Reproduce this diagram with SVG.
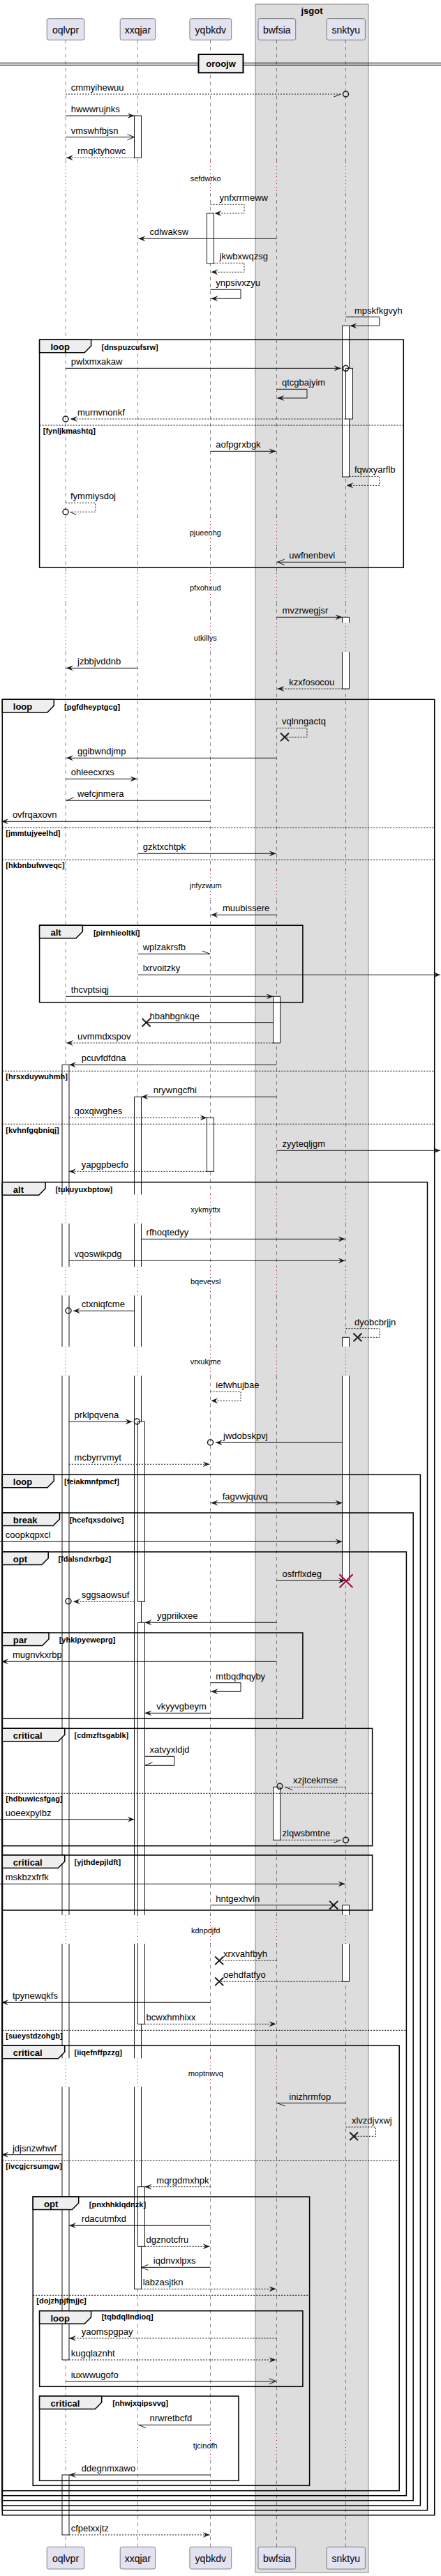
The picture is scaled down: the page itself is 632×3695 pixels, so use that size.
<svg xmlns="http://www.w3.org/2000/svg" width="632" height="3695" viewBox="0 0 632 3695">
<style>
.bg{fill:#fff}
.box{fill:#DDDDDD;stroke:#888888;stroke-width:1}
.ph{fill:#E2E2F0;stroke:#181818;stroke-width:0.5}
.pt{font:14px "Liberation Sans",Arial,sans-serif;fill:#000;text-anchor:middle}
.ll{fill:none;stroke:#181818;stroke-width:0.5;stroke-dasharray:5,5}
.dl{fill:none;stroke:#A80036;stroke-width:1;stroke-dasharray:1,4}
.actf{fill:#fff;stroke:none}
.act{fill:#fff;stroke:#181818;stroke-width:1}
.acto{fill:none;stroke:#181818;stroke-width:1}
.fr{fill:none;stroke:#000;stroke-width:1.5}
.tab{fill:#EEEEEE;stroke:#000;stroke-width:1.5}
.els{stroke:#000;stroke-width:1;stroke-dasharray:2,2}
.gt{font:bold 13px "Liberation Sans",Arial,sans-serif;fill:#000}
.gc{font:bold 11px "Liberation Sans",Arial,sans-serif;fill:#000}
.m{font:13px "Liberation Sans",Arial,sans-serif;fill:#000}
.d{font:11px "Liberation Sans",Arial,sans-serif;fill:#000;text-anchor:middle}
.s{fill:none;stroke:#181818;stroke-width:1}
.k{fill:none;stroke:#181818;stroke-width:1;stroke-dasharray:2,2}
.f{marker-end:url(#af)}
.o{marker-end:url(#ao)}
.c{fill:none;stroke:#181818;stroke-width:1.5}
.x{stroke:#181818;stroke-width:2}
.xr{stroke:#A80036;stroke-width:2}
</style>
<defs>
<marker id="af" viewBox="0 0 10 8" refX="10" refY="4" markerWidth="10" markerHeight="8" markerUnits="userSpaceOnUse" orient="auto-start-reverse"><path d="M0,0L10,4L0,8L4,4Z" fill="#181818"/></marker>
<marker id="ao" viewBox="-1 -1 12 10" refX="10" refY="4" markerWidth="12" markerHeight="10" markerUnits="userSpaceOnUse" orient="auto" overflow="visible"><path d="M0,0L10,4L0,8" fill="none" stroke="#181818" stroke-width="1"/></marker>
<path id="llp" d="M0,57.3V233M0,277V742M0,785V822M0,864V893.3M0,935V1248M0,1291V1713.5M0,1755V1817M0,1858.3V1931.7M0,1973.3V2747M0,2788.3V2952.3M0,2993.3V3485M0,3528.3V3653.3"/>
<path id="dlp" d="M0,233V277M0,742V785M0,822V864M0,893.3V935M0,1248V1291M0,1713.5V1755M0,1817V1858.3M0,1931.7V1973.3M0,2747V2788.3M0,2952.3V2993.3M0,3485V3528.3"/>
</defs>
<rect class="bg" x="0" y="0" width="632" height="3695"/>
<g id="box-jsgot">
<rect class="box" x="366" y="6" width="162" height="3684"/>
<text class="gt" x="447" y="19.5" text-anchor="middle">jsgot</text>
</g>
<g id="lifelines">
<use href="#llp" class="ll" x="94"/><use href="#llp" class="ll" x="197.5"/><use href="#llp" class="ll" x="301.5"/><use href="#llp" class="ll" x="396.5"/><use href="#llp" class="ll" x="495.5"/>
<use href="#dlp" class="dl" x="94"/><use href="#dlp" class="dl" x="197.5"/><use href="#dlp" class="dl" x="301.5"/><use href="#dlp" class="dl" x="396.5"/><use href="#dlp" class="dl" x="495.5"/>
</g>
<g id="oqlvpr"><rect class="ph" x="67.2" y="26.7" width="53.7" height="30.6" rx="2.5"/><text class="pt" x="94" y="47.5">oqlvpr</text><rect class="ph" x="67.2" y="3653.3" width="53.7" height="31.7" rx="2.5"/><text class="pt" x="94" y="3674.5">oqlvpr</text></g>
<g id="xxqjar"><rect class="ph" x="172.2" y="26.7" width="50.4" height="30.6" rx="2.5"/><text class="pt" x="197.4" y="47.5">xxqjar</text><rect class="ph" x="172.2" y="3653.3" width="50.4" height="31.7" rx="2.5"/><text class="pt" x="197.4" y="3674.5">xxqjar</text></g>
<g id="yqbkdv"><rect class="ph" x="271.9" y="26.7" width="59.8" height="30.6" rx="2.5"/><text class="pt" x="301.8" y="47.5">yqbkdv</text><rect class="ph" x="271.9" y="3653.3" width="59.8" height="31.7" rx="2.5"/><text class="pt" x="301.8" y="3674.5">yqbkdv</text></g>
<g id="bwfsia"><rect class="ph" x="370" y="26.7" width="53.7" height="30.6" rx="2.5"/><text class="pt" x="396.8" y="47.5">bwfsia</text><rect class="ph" x="370" y="3653.3" width="53.7" height="31.7" rx="2.5"/><text class="pt" x="396.8" y="3674.5">bwfsia</text></g>
<g id="snktyu"><rect class="ph" x="468" y="26.7" width="55.4" height="30.6" rx="2.5"/><text class="pt" x="495.7" y="47.5">snktyu</text><rect class="ph" x="468" y="3653.3" width="55.4" height="31.7" rx="2.5"/><text class="pt" x="495.7" y="3674.5">snktyu</text></g>
<g id="activations">
<rect class="act" x="192.5" y="166" width="10" height="60.3"/>
<rect class="act" x="296.5" y="306" width="10" height="72"/>
<rect class="act" x="490.5" y="467.3" width="10" height="216.7"/>
<rect class="act" x="495.5" y="528.3" width="10" height="72.7"/>
<rect class="actf" x="490.5" y="885.3" width="10" height="8"/><rect class="actf" x="490.5" y="935" width="10" height="53"/>
<path class="acto" d="M490.5,893.3V885.3H500.5V893.3M490.5,935V988H500.5V935"/>
<rect class="act" x="391.5" y="1429.3" width="10" height="66.7"/>
<rect class="actf" x="89" y="1527.3" width="10" height="186.2"/><rect class="actf" x="89" y="1755" width="10" height="62"/><rect class="actf" x="89" y="1858.3" width="10" height="73.4"/><rect class="actf" x="89" y="1973.3" width="10" height="773.7"/><rect class="actf" x="89" y="2788.3" width="10" height="164"/><rect class="actf" x="89" y="2993.3" width="10" height="391.7"/>
<path class="acto" d="M89,1713.5V1527.3H99V1713.5M89,1755V1817M99,1755V1817M89,1858.3V1931.7M99,1858.3V1931.7M89,1973.3V2747M99,1973.3V2747M89,2788.3V2952.3M99,2788.3V2952.3M89,2993.3V3385H99V2993.3"/>
<rect class="actf" x="192.5" y="1573.3" width="10" height="140.2"/><rect class="actf" x="192.5" y="1755" width="10" height="62"/><rect class="actf" x="192.5" y="1858.3" width="10" height="73.4"/><rect class="actf" x="192.5" y="1973.3" width="10" height="773.7"/><rect class="actf" x="192.5" y="2788.3" width="10" height="164"/><rect class="actf" x="192.5" y="2993.3" width="10" height="290"/>
<path class="acto" d="M192.5,1713.5V1573.3H202.5V1713.5M192.5,1755V1817M202.5,1755V1817M192.5,1858.3V1931.7M202.5,1858.3V1931.7M192.5,1973.3V2747M202.5,1973.3V2747M192.5,2788.3V2952.3M202.5,2788.3V2952.3M192.5,2993.3V3283.3H202.5V2993.3"/>
<rect class="act" x="296.5" y="1603.3" width="10" height="77"/>
<rect class="actf" x="490.5" y="1918.3" width="10" height="13.4"/><rect class="actf" x="490.5" y="1973.3" width="10" height="294"/>
<path class="acto" d="M490.5,1931.7V1918.3H500.5V1931.7M490.5,1973.3V2267.3H500.5V1973.3"/>
<rect class="act" x="197.5" y="2039.3" width="10" height="258"/>
<rect class="actf" x="197.5" y="2327.3" width="10" height="419.7"/><rect class="actf" x="197.5" y="2788.3" width="10" height="115"/>
<path class="acto" d="M197.5,2747V2327.3H207.5V2747M197.5,2788.3V2903.3H207.5V2788.3"/>
<rect class="act" x="391.5" y="2563.3" width="10" height="76"/>
<rect class="actf" x="490.5" y="2732.7" width="10" height="14.3"/><rect class="actf" x="490.5" y="2788.3" width="10" height="54"/>
<path class="acto" d="M490.5,2747V2732.7H500.5V2747M490.5,2788.3V2842.3H500.5V2788.3"/>
<rect class="act" x="197.5" y="3136.7" width="10" height="85.6"/>
<rect class="act" x="89" y="3550" width="10" height="86"/>
</g>
<g id="divider">
<line x1="0" y1="90.3" x2="632" y2="90.3" stroke="#000" stroke-width="1"/>
<line x1="0" y1="93.3" x2="632" y2="93.3" stroke="#000" stroke-width="1"/>
<rect x="284.5" y="78" width="64" height="26.3" fill="#EEEEEE" stroke="#000" stroke-width="2"/>
<text class="gt" x="316.5" y="96.3" text-anchor="middle">oroojw</text>
</g>
<g id="frames">
<g id="g1"><rect class="fr" x="56.6" y="487.3" width="521.7" height="326.7"/><path class="tab" d="M56.6,487.3H130.6V496.3L121.2,505.8H56.6Z"/><text class="gt" x="72.5" y="502.3">loop</text><text class="gc" x="145.5" y="501.8">[dnspuzcufsrw]</text>
<line class="els" x1="56.6" y1="610" x2="578.3" y2="610"/><text class="gc" x="61.8" y="622">[fynljkmashtq]</text></g>
<g id="g2"><rect class="fr" x="3.3" y="1003.3" width="619.4" height="2604.4"/><path class="tab" d="M3.3,1003.3H77.3V1012.3L67.9,1021.8H3.3Z"/><text class="gt" x="18.8" y="1018.3">loop</text><text class="gc" x="92" y="1017.8">[pgfdheyptgcg]</text>
<line class="els" x1="3.3" y1="1187.3" x2="622.7" y2="1187.3"/><text class="gc" x="8.3" y="1199.3">[jmmtujyeelhd]</text>
<line class="els" x1="3.3" y1="1233.3" x2="622.7" y2="1233.3"/><text class="gc" x="8.3" y="1245.3">[hkbnbufwveqc]</text>
<line class="els" x1="3.3" y1="1536.3" x2="622.7" y2="1536.3"/><text class="gc" x="8.3" y="1548.3">[hrsxduywuhmh]</text>
<line class="els" x1="3.3" y1="1612.3" x2="622.7" y2="1612.3"/><text class="gc" x="8.3" y="1624.5">[kvhnfgqbniqj]</text></g>
<g id="g3"><rect class="fr" x="56.6" y="1327.3" width="377.3" height="110.4"/><path class="tab" d="M56.6,1327.3H118.4V1336.3L109,1345.8H56.6Z"/><text class="gt" x="72.5" y="1342.3">alt</text><text class="gc" x="133.9" y="1341.5">[pirnhieoltki]</text></g>
<g id="g4"><rect class="fr" x="3.3" y="1695.7" width="609.2" height="1905"/><path class="tab" d="M3.3,1695.7H65.1V1704.7L55.7,1714.2H3.3Z"/><text class="gt" x="18.8" y="1710.7">alt</text><text class="gc" x="79.4" y="1709.5">[tukuyuxbptow]</text></g>
<g id="g5"><rect class="fr" x="3.3" y="2115.3" width="599.1" height="1478.7"/><path class="tab" d="M3.3,2115.3H77.3V2124.3L67.9,2133.8H3.3Z"/><text class="gt" x="18.8" y="2130.3">loop</text><text class="gc" x="92" y="2128.5">[feiakmnfpmcf]</text></g>
<g id="g6"><rect class="fr" x="3.3" y="2170" width="588.9" height="1416.7"/><path class="tab" d="M3.3,2170H85.5V2179L76.1,2188.5H3.3Z"/><text class="gt" x="18.8" y="2185">break</text><text class="gc" x="99.7" y="2184.3">[hcefqxsdoivc]</text></g>
<g id="g7"><rect class="fr" x="3.3" y="2226" width="579.1" height="1353.7"/><path class="tab" d="M3.3,2226H69.2V2235L59.8,2244.5H3.3Z"/><text class="gt" x="18.8" y="2241">opt</text><text class="gc" x="83.4" y="2240.3">[fdalsndxrbgz]</text>
<line class="els" x1="3.3" y1="2912.3" x2="582.4" y2="2912.3"/><text class="gc" x="8.3" y="2924.3">[sueystdzohgb]</text></g>
<g id="g8"><rect class="fr" x="3.3" y="2342" width="430.6" height="123"/><path class="tab" d="M3.3,2342H70V2351L60.6,2360.5H3.3Z"/><text class="gt" x="18.8" y="2357">par</text><text class="gc" x="84.7" y="2356.3">[yhkipyeweprg]</text></g>
<g id="g9"><rect class="fr" x="3.3" y="2479.3" width="530.3" height="168.4"/><path class="tab" d="M3.3,2479.3H92.8V2488.3L83.4,2497.8H3.3Z"/><text class="gt" x="18.8" y="2494.3">critical</text><text class="gc" x="106.6" y="2493.3">[cdmzftsgablk]</text>
<line class="els" x1="3.3" y1="2572.3" x2="533.6" y2="2572.3"/><text class="gc" x="8.3" y="2584.3">[hdbuwicsfgag]</text></g>
<g id="g10"><rect class="fr" x="3.3" y="2661" width="530.3" height="79"/><path class="tab" d="M3.3,2661H92.8V2670L83.4,2679.5H3.3Z"/><text class="gt" x="18.8" y="2676">critical</text><text class="gc" x="106.6" y="2675.3">[yjthdepjldft]</text></g>
<g id="g11"><rect class="fr" x="3.3" y="2934.3" width="568.9" height="638.4"/><path class="tab" d="M3.3,2934.3H92.8V2943.3L83.4,2952.8H3.3Z"/><text class="gt" x="18.8" y="2949.3">critical</text><text class="gc" x="106.6" y="2947.7">[iiqefnffpzzg]</text>
<line class="els" x1="3.3" y1="3099.3" x2="572.2" y2="3099.3"/><text class="gc" x="8.3" y="3111.3">[ivcgjcrsumgw]</text></g>
<g id="g12"><rect class="fr" x="47.2" y="3151" width="396.4" height="414.3"/><path class="tab" d="M47.2,3151H112.7V3160L103.3,3169.5H47.2Z"/><text class="gt" x="63" y="3166">opt</text><text class="gc" x="127.8" y="3165.7">[pnxhhklqdnzk]</text>
<line class="els" x1="47.2" y1="3292.3" x2="443.6" y2="3292.3"/><text class="gc" x="52.3" y="3304.3">[dojzhpjfmjjc]</text></g>
<g id="g13"><rect class="fr" x="56.6" y="3314.7" width="377.3" height="108.6"/><path class="tab" d="M56.6,3314.7H130.6V3323.7L121.2,3333.2H56.6Z"/><text class="gt" x="72.5" y="3329.7">loop</text><text class="gc" x="145.7" y="3327.3">[tqbdqllndioq]</text></g>
<g id="g14"><rect class="fr" x="56.6" y="3437" width="285.3" height="121.3"/><path class="tab" d="M56.6,3437H145.7V3446L136.3,3455.5H56.6Z"/><text class="gt" x="72.5" y="3452">critical</text><text class="gc" x="161.2" y="3451.3">[nhwjxqipsvvg]</text></g>
</g>
<g id="connectors">
<line class="k" x1="94" y1="135" x2="488.4" y2="135"/><line class="s" x1="478.4" y1="139" x2="488.4" y2="135"/><circle class="c" cx="495.5" cy="135" r="4"/><text class="m" x="101.7" y="130">cmmyihewuu</text>
<line class="s f" x1="94" y1="166" x2="192.5" y2="166"/><text class="m" x="101.7" y="161">hwwwrujnks</text>
<line class="s o" x1="94" y1="196.7" x2="192.5" y2="196.7"/><text class="m" x="101.7" y="191.7">vmswhfbjsn</text>
<line class="k f" x1="192.5" y1="226.3" x2="95" y2="226.3"/><text class="m" x="111" y="221.3">rmqktyhowc</text>
<text class="d" x="294.7" y="260.3">sefdwrko</text>
<path class="k f" d="M301.5,293.3H350V306H307.5"/><text class="m" x="314.6" y="288.3">ynfxrrmeww</text>
<line class="s f" x1="396.5" y1="342.3" x2="198.5" y2="342.3"/><text class="m" x="214.5" y="337.3">cdlwaksw</text>
<path class="k f" d="M306.5,377.3H350V390.3H302.5"/><text class="m" x="314.6" y="372.3">jkwbxwqzsg</text>
<path class="s f" d="M301.5,415.3H345V428.3H302.5"/><text class="m" x="309.3" y="410.3">ynpsivxzyu</text>
<path class="s f" d="M495.5,454.7H543.8V467.3H501.5"/><text class="m" x="508" y="449.7">mpskfkgvyh</text>
<line class="s f" x1="94" y1="528.3" x2="488.5" y2="528.3"/><circle class="c" cx="495.5" cy="528.3" r="4"/><text class="m" x="101.7" y="523.3">pwlxmxakaw</text>
<path class="s f" d="M396.5,558.3H440V571H397.5"/><text class="m" x="404" y="553.3">qtcgbajyim</text>
<line class="k f" x1="495.5" y1="601" x2="101" y2="601"/><circle class="c" cx="94" cy="601" r="4"/><text class="m" x="111" y="596">murnvnonkf</text>
<line class="s f" x1="301.5" y1="647.3" x2="395.5" y2="647.3"/><text class="m" x="309.3" y="642.3">aofpgrxbgk</text>
<path class="k f" d="M500.5,683.3H543.8V696.3H496.5"/><text class="m" x="508" y="678.3">fqwxyarflb</text>
<path class="k" d="M94,721.3H136.8V734.3H100"/><line class="s" x1="100" y1="734.3" x2="109.5" y2="738.5"/><circle class="c" cx="94" cy="734.3" r="4"/><text class="m" x="101" y="716.3">fymmiysdoj</text>
<text class="d" x="294.3" y="768.3">pjueenhg</text>
<line class="s o" x1="495.5" y1="806.3" x2="397.5" y2="806.3"/><text class="m" x="414.3" y="801.3">uwfnenbevi</text>
<text class="d" x="294.3" y="847.3">pfxohxud</text>
<line class="s f" x1="396.5" y1="885.3" x2="490.5" y2="885.3"/><text class="m" x="404.6" y="880.3">mvzrwegjsr</text>
<text class="d" x="294.3" y="918.5">utkillys</text>
<line class="s f" x1="197.5" y1="958.3" x2="95" y2="958.3"/><text class="m" x="111" y="953.3">jzbbjvddnb</text>
<line class="k f" x1="490.5" y1="988" x2="397.5" y2="988"/><text class="m" x="414.3" y="983">kzxfosocou</text>
<path class="k" d="M396.5,1044.3H440V1057.3H408"/><path class="x" d="M402,1051.5L414,1063.1M414,1051.5L402,1063.1"/><text class="m" x="404" y="1039.3">vqlnngactq</text>
<line class="s f" x1="396.5" y1="1087.3" x2="95" y2="1087.3"/><text class="m" x="111" y="1082.3">ggibwndjmp</text>
<line class="s f" x1="94" y1="1117.3" x2="196.5" y2="1117.3"/><text class="m" x="101.7" y="1112.3">ohleecxrxs</text>
<line class="s" x1="301.5" y1="1148.3" x2="95" y2="1148.3"/><line class="s" x1="95" y1="1148.3" x2="105.8" y2="1144"/><text class="m" x="111" y="1143.3">wefcjnmera</text>
<line class="s f" x1="301.5" y1="1178.3" x2="2" y2="1178.3"/><text class="m" x="17.9" y="1173.3">ovfrqaxovn</text>
<line class="s f" x1="197.5" y1="1224.3" x2="395.5" y2="1224.3"/><text class="m" x="204.7" y="1219.3">gzktxchtpk</text>
<text class="d" x="294.7" y="1274">jnfyzwum</text>
<line class="s f" x1="396.5" y1="1312.3" x2="302.5" y2="1312.3"/><text class="m" x="319" y="1307.3">muubissere</text>
<line class="s" x1="197.5" y1="1368.3" x2="301" y2="1368.3"/><line class="s" x1="290" y1="1364" x2="301" y2="1368.3"/><text class="m" x="204.7" y="1363.3">wplzakrsfb</text>
<line class="s f" x1="197.5" y1="1398.3" x2="631" y2="1398.3"/><text class="m" x="204.7" y="1393.3">lxrvoitzky</text>
<line class="s f" x1="94" y1="1429.3" x2="391.5" y2="1429.3"/><text class="m" x="101.7" y="1424.3">thcvptsiqj</text>
<line class="s" x1="391.5" y1="1466.7" x2="209.6" y2="1466.7"/><path class="x" d="M203.6,1460.9L215.6,1472.5M215.6,1460.9L203.6,1472.5"/><text class="m" x="214.5" y="1461.7">hbahbgnkqe</text>
<line class="k f" x1="391.5" y1="1496" x2="95" y2="1496"/><text class="m" x="111" y="1491">uvmmdxspov</text>
<line class="s f" x1="396.5" y1="1527.3" x2="99" y2="1527.3"/><text class="m" x="116.8" y="1522.3">pcuvfdfdna</text>
<line class="s f" x1="396.5" y1="1573.3" x2="202.5" y2="1573.3"/><text class="m" x="219.8" y="1568.3">nrywngcfhi</text>
<line class="k f" x1="99" y1="1603.3" x2="296.5" y2="1603.3"/><text class="m" x="106.6" y="1598.3">qoxqiwghes</text>
<line class="s f" x1="396.5" y1="1650.3" x2="631" y2="1650.3"/><text class="m" x="404.6" y="1645.3">zyyteqljgm</text>
<line class="k f" x1="296.5" y1="1680.3" x2="99" y2="1680.3"/><text class="m" x="116.8" y="1675.3">yapgpbecfo</text>
<text class="d" x="294.7" y="1739">xykmyttx</text>
<line class="s f" x1="202.5" y1="1777.3" x2="494.5" y2="1777.3"/><text class="m" x="209.6" y="1772.3">rfhoqtedyy</text>
<line class="s f" x1="99" y1="1808.3" x2="494.5" y2="1808.3"/><text class="m" x="106.6" y="1803.3">vqoswikpdg</text>
<text class="d" x="294.7" y="1842.3">bqevevsl</text>
<line class="s f" x1="192.5" y1="1880.3" x2="105" y2="1880.3"/><circle class="c" cx="98" cy="1880" r="4"/><text class="m" x="116.8" y="1875.3">ctxniqfcme</text>
<path class="k" d="M495.5,1905.7H543.8V1918.3H512.4"/><path class="x" d="M506.4,1912.5L518.4,1924.1M518.4,1912.5L506.4,1924.1"/><text class="m" x="508" y="1900.7">dyobcbrjjn</text>
<text class="d" x="294.7" y="1957.3">vrxukjme</text>
<path class="k f" d="M301.5,1996H345V2009.3H302.5"/><text class="m" x="309.3" y="1991">iefwhujbae</text>
<line class="s f" x1="99" y1="2039.3" x2="189.5" y2="2039.3"/><circle class="c" cx="196.3" cy="2039" r="4"/><text class="m" x="106.6" y="2034.3">prklpqvena</text>
<line class="s f" x1="490.5" y1="2069.3" x2="309" y2="2069.3"/><circle class="c" cx="301.5" cy="2069" r="4"/><text class="m" x="320" y="2064.3">jwdobskpvj</text>
<line class="k f" x1="99" y1="2100.3" x2="300.5" y2="2100.3"/><text class="m" x="106.6" y="2095.3">mcbyrrvmyt</text>
<line class="s" x1="302.5" y1="2155.7" x2="490.5" y2="2155.7" marker-start="url(#af)" marker-end="url(#af)"/><text class="m" x="318.7" y="2150.7">fagvwjquvq</text>
<line class="s f" x1="0" y1="2211.3" x2="490.5" y2="2211.3"/><text class="m" x="7.7" y="2206.3">coopkqpxcl</text>
<line class="s f" x1="396.5" y1="2267.3" x2="494.5" y2="2267.3"/><path class="xr" d="M486.5,2258.2L505.5,2277.2M505.5,2258.2L486.5,2277.2"/><text class="m" x="404.6" y="2262.3">osfrflxdeg</text>
<line class="k f" x1="192.5" y1="2297.3" x2="105" y2="2297.3"/><circle class="c" cx="98" cy="2296.8" r="4"/><text class="m" x="116.8" y="2292.3">sggsaowsuf</text>
<line class="s f" x1="396.5" y1="2327.3" x2="207.5" y2="2327.3"/><text class="m" x="225" y="2322.3">ygpriikxee</text>
<line class="s f" x1="396.5" y1="2383.3" x2="2" y2="2383.3"/><text class="m" x="17.9" y="2378.3">mugnvkxrbp</text>
<path class="s f" d="M301.5,2413.7H345V2426.3H302.5"/><text class="m" x="309.3" y="2408.7">mtbqdhqyby</text>
<line class="s f" x1="301.5" y1="2457.3" x2="207.5" y2="2457.3"/><text class="m" x="224.3" y="2452.3">vkyyvgbeym</text>
<path class="s" d="M207.5,2519.3H249.9V2532.3H207.5"/><line class="s" x1="207.5" y1="2532.3" x2="218.5" y2="2528"/><text class="m" x="214.5" y="2514.3">xatvyxldjd</text>
<line class="k" x1="495.5" y1="2563.3" x2="408.2" y2="2563.3"/><line class="s" x1="408.2" y1="2563.3" x2="419.2" y2="2567.5"/><circle class="c" cx="401" cy="2562.3" r="4"/><text class="m" x="420" y="2558.3">xzjtcekmse</text>
<line class="s f" x1="0" y1="2609.7" x2="192.5" y2="2609.7"/><text class="m" x="7.7" y="2604.7">uoeexpylbz</text>
<line class="k" x1="401.5" y1="2639.3" x2="488.4" y2="2639.3"/><line class="s" x1="478" y1="2643.5" x2="488.4" y2="2639.3"/><circle class="c" cx="495.5" cy="2639.3" r="4"/><text class="m" x="404.6" y="2634.3">zlqwsbmtne</text>
<line class="s f" x1="0" y1="2702.3" x2="494.5" y2="2702.3"/><text class="m" x="7.7" y="2697.3">mskbzxfrfk</text>
<line class="s" x1="301.5" y1="2732.7" x2="478.2" y2="2732.7"/><path class="x" d="M472.2,2726.9L484.2,2738.5M484.2,2726.9L472.2,2738.5"/><text class="m" x="309.3" y="2727.7">hntgexhvln</text>
<text class="d" x="294.7" y="2773">kdnpdjfd</text>
<line class="k" x1="396.5" y1="2812.3" x2="314.2" y2="2812.3"/><path class="x" d="M308.2,2806.5L320.2,2818.1M320.2,2806.5L308.2,2818.1"/><text class="m" x="320" y="2807.3">xrxvahfbyh</text>
<line class="k" x1="490.5" y1="2842.3" x2="314.2" y2="2842.3"/><path class="x" d="M308.2,2836.5L320.2,2848.1M320.2,2836.5L308.2,2848.1"/><text class="m" x="320" y="2837.3">oehdfatfyo</text>
<line class="s f" x1="301.5" y1="2872.3" x2="2" y2="2872.3"/><text class="m" x="17.9" y="2867.3">tpynewqkfs</text>
<line class="k f" x1="207.5" y1="2903.3" x2="395.5" y2="2903.3"/><text class="m" x="209.6" y="2898.3">bcwxhmhixx</text>
<text class="d" x="294.7" y="2978.3">moptnwvq</text>
<line class="s" x1="495.5" y1="3016.7" x2="397.5" y2="3016.7"/><line class="s" x1="397.5" y1="3016.7" x2="408.4" y2="3020.9"/><text class="m" x="414.3" y="3011.7">inizhrmfop</text>
<path class="k" d="M495.5,3051H538.5V3064.3H507.1"/><path class="x" d="M501.1,3058.5L513.1,3070.1M513.1,3058.5L501.1,3070.1"/><text class="m" x="503.9" y="3046">xlvzdjvxwj</text>
<line class="s f" x1="89" y1="3090.7" x2="2" y2="3090.7"/><text class="m" x="17.9" y="3085.7">jdjsnzwhwf</text>
<line class="k f" x1="301.5" y1="3136.7" x2="207.5" y2="3136.7"/><text class="m" x="224.3" y="3131.7">mqrgdmxhpk</text>
<line class="s f" x1="301.5" y1="3192.3" x2="99" y2="3192.3"/><text class="m" x="116.8" y="3187.3">rdacutmfxd</text>
<line class="k f" x1="207.5" y1="3222.3" x2="300.5" y2="3222.3"/><text class="m" x="209.6" y="3217.3">dgznotcfru</text>
<line class="s o" x1="301.5" y1="3252.3" x2="202.5" y2="3252.3"/><text class="m" x="219.8" y="3247.3">iqdnvxlpxs</text>
<line class="k f" x1="202.5" y1="3283.3" x2="395.5" y2="3283.3"/><text class="m" x="204.7" y="3278.3">labzasjtkn</text>
<line class="k f" x1="396.5" y1="3354" x2="99" y2="3354"/><text class="m" x="116.8" y="3349">yaomspgpay</text>
<line class="k f" x1="99" y1="3385" x2="395.5" y2="3385"/><text class="m" x="101.7" y="3380">kugqlaznht</text>
<line class="s o" x1="94" y1="3415.7" x2="395.5" y2="3415.7"/><text class="m" x="101.7" y="3410.7">iuxwwugofo</text>
<line class="s" x1="301.5" y1="3478.3" x2="198.5" y2="3478.3"/><line class="s" x1="198.5" y1="3478.3" x2="209" y2="3482.6"/><text class="m" x="214.5" y="3473.3">nrwretbcfd</text>
<text class="d" x="294.3" y="3512.3">tjcinofh</text>
<line class="s f" x1="301.5" y1="3550" x2="99" y2="3550"/><text class="m" x="116.8" y="3545">ddegnmxawo</text>
<line class="k f" x1="99" y1="3636" x2="300.5" y2="3636"/><text class="m" x="101.7" y="3631">cfpetxxjtz</text>
</g>
</svg>
